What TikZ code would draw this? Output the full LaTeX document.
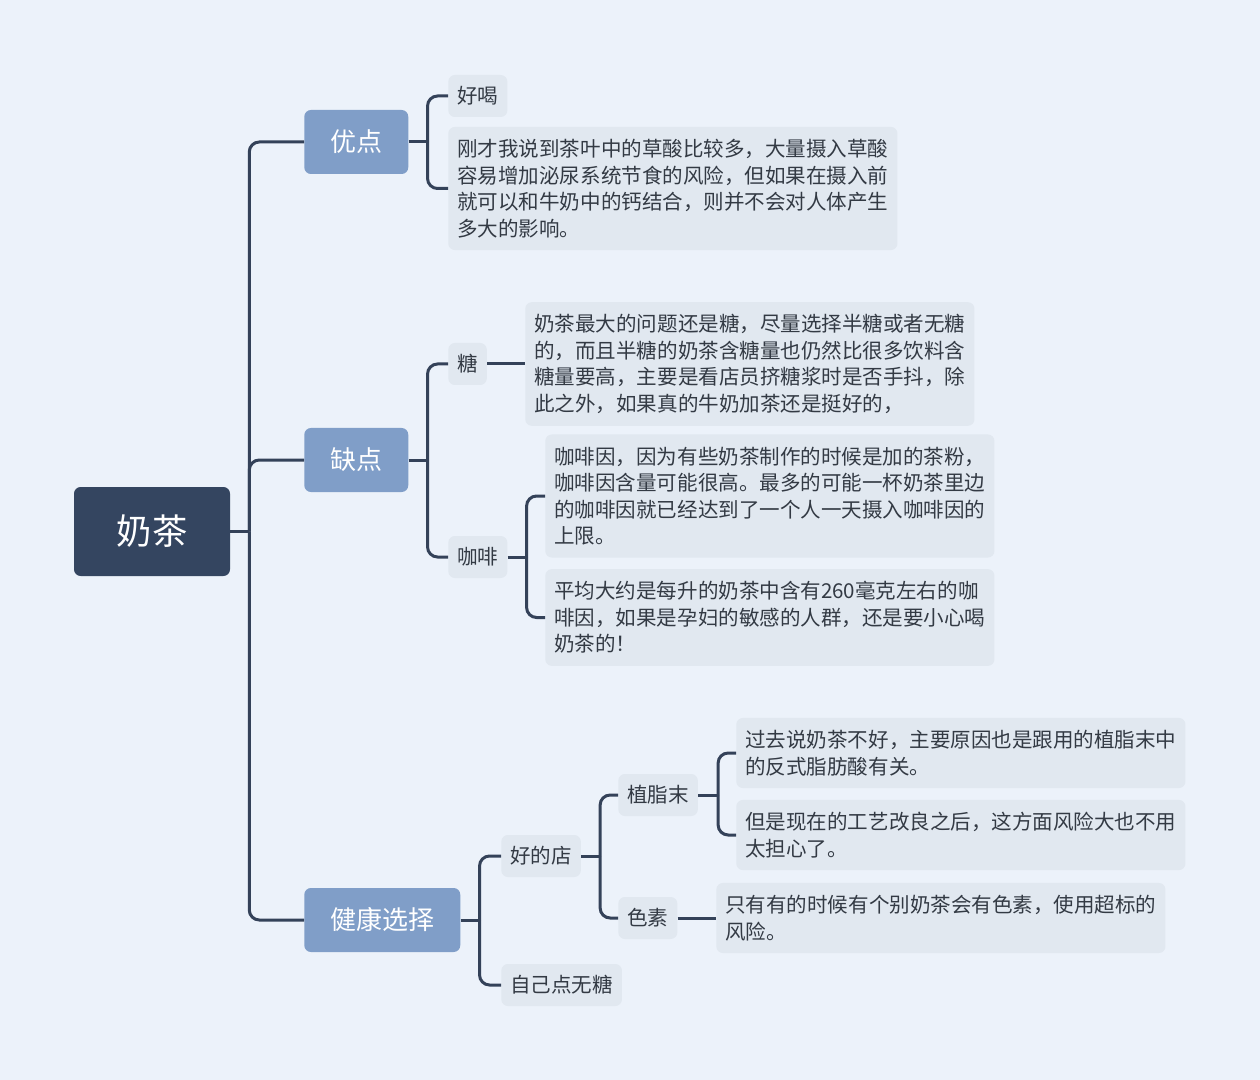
\documentclass[tikz,border=0pt]{standalone}
\usepackage{fontspec}
\setmainfont{Noto Sans CJK SC}
\definecolor{bgblue}{RGB}{236,242,250}
\definecolor{rootnavy}{RGB}{52,69,96}
\definecolor{mainblue}{RGB}{128,158,200}
\definecolor{leafgray}{RGB}{225,232,240}
\definecolor{inkgray}{RGB}{51,58,68}
\definecolor{linknavy}{RGB}{52,66,89}
\usetikzlibrary{positioning}
\tikzset{
  rootbox/.style={fill=rootnavy,text=white,rounded corners=5pt,minimum width=117pt,minimum height=66.75pt,font=\fontsize{26.5pt}{30pt}\selectfont},
  mainbox/.style={fill=mainblue,text=white,rounded corners=5pt,minimum height=48pt,inner xsep=19.5pt,font=\fontsize{19.5pt}{22pt}\selectfont},
  leafbox/.style={fill=leafgray,text=inkgray,rounded corners=5pt,minimum height=31.5pt,inner xsep=6.75pt,font=\fontsize{15.4pt}{19.9pt}\selectfont},
  notebox/.style={leafbox,align=left,inner ysep=9.2pt},
  linkln/.style={linknavy,line width=2.25pt},
  elbow/.style={linkln,rounded corners=7.5pt},
}

\begin{document}
\begin{tikzpicture}[x=0.75pt,y=-0.75pt]
        \fill[bgblue] (0,0) rectangle (1260,1080);
        \useasboundingbox (0,0) rectangle (1260,1080);
        % markaz va asosiy tarmoqlar
        \node[rootbox] (naicha) at (152,531.5) {奶茶};
        \node[mainbox,anchor=west] (youdian) at (304,142) {优点};
        \node[mainbox,anchor=west] (quedian) at (304,460) {缺点};
        \node[mainbox,anchor=west] (jiankang) at (304,920) {健康选择};
        % 优点
        \node[leafbox,anchor=west] (haohe) at (448,96) {好喝};
        \node[notebox,anchor=west] (ydnote) at (448,188.5) {刚才我说到茶叶中的草酸比较多，大量摄入草酸\\容易增加泌尿系统节食的风险，但如果在摄入前\\就可以和牛奶中的钙结合，则并不会对人体产生\\多大的影响。};
        % 缺点
        \node[leafbox,anchor=west] (tang) at (448,364) {糖};
        \node[notebox,anchor=west] (tangnote) at (525,364) {奶茶最大的问题还是糖，尽量选择半糖或者无糖\\的，而且半糖的奶茶含糖量也仍然比很多饮料含\\糖量要高，主要是看店员挤糖浆时是否手抖，除\\此之外，如果真的牛奶加茶还是挺好的，};
        \node[leafbox,anchor=west] (kafei) at (448,557) {咖啡};
        \node[notebox,anchor=west] (kfnote1) at (545,496) {咖啡因，因为有些奶茶制作的时候是加的茶粉，\\咖啡因含量可能很高。最多的可能一杯奶茶里边\\的咖啡因就已经达到了一个人一天摄入咖啡因的\\上限。};
        \node[notebox,anchor=west] (kfnote2) at (545,617.5) {平均大约是每升的奶茶中含有260毫克左右的咖\\啡因，如果是孕妇的敏感的人群，还是要小心喝\\奶茶的！};
        % 健康选择
        \node[leafbox,anchor=west] (haodian) at (501,856) {好的店};
        \node[leafbox,anchor=west] (zijidian) at (501,985) {自己点无糖};
        \node[leafbox,anchor=west] (zhizhimo) at (618,795) {植脂末};
        \node[leafbox,anchor=west] (sesu) at (618,918) {色素};
        \node[notebox,anchor=west] (zzmnote1) at (736,753) {过去说奶茶不好，主要原因也是跟用的植脂末中\\的反式脂肪酸有关。};
        \node[notebox,anchor=west] (zzmnote2) at (736,835) {但是现在的工艺改良之后，这方面风险大也不用\\太担心了。};
        \node[notebox,anchor=west] (sesunote) at (716,918) {只有有的时候有个别奶茶会有色素，使用超标的\\风险。};
        % ulanishlar
        \draw[linkln] (naicha.east) -- ++(19,0) coordinate (nj);
        \foreach \c in {youdian,quedian,jiankang} \draw[elbow] (nj) |- (\c.west);
        \draw[linkln] (youdian.east) -- ++(19,0) coordinate (yj);
        \foreach \c in {haohe,ydnote} \draw[elbow] (yj) |- (\c.west);
        \draw[linkln] (quedian.east) -- ++(19,0) coordinate (qj);
        \foreach \c in {tang,kafei} \draw[elbow] (qj) |- (\c.west);
        \draw[linkln] (tang.east) -- (tangnote.west);
        \draw[linkln] (kafei.east) -- ++(19,0) coordinate (kj);
        \foreach \c in {kfnote1,kfnote2} \draw[elbow] (kj) |- (\c.west);
        \draw[linkln] (jiankang.east) -- ++(19,0) coordinate (jj);
        \foreach \c in {haodian,zijidian} \draw[elbow] (jj) |- (\c.west);
        \draw[linkln] (haodian.east) -- ++(19,0) coordinate (hj);
        \foreach \c in {zhizhimo,sesu} \draw[elbow] (hj) |- (\c.west);
        \draw[linkln] (zhizhimo.east) -- ++(20,0) coordinate (zj);
        \foreach \c in {zzmnote1,zzmnote2} \draw[elbow] (zj) |- (\c.west);
        \draw[linkln] (sesu.east) -- (sesunote.west);
      \end{tikzpicture}
\end{document}
